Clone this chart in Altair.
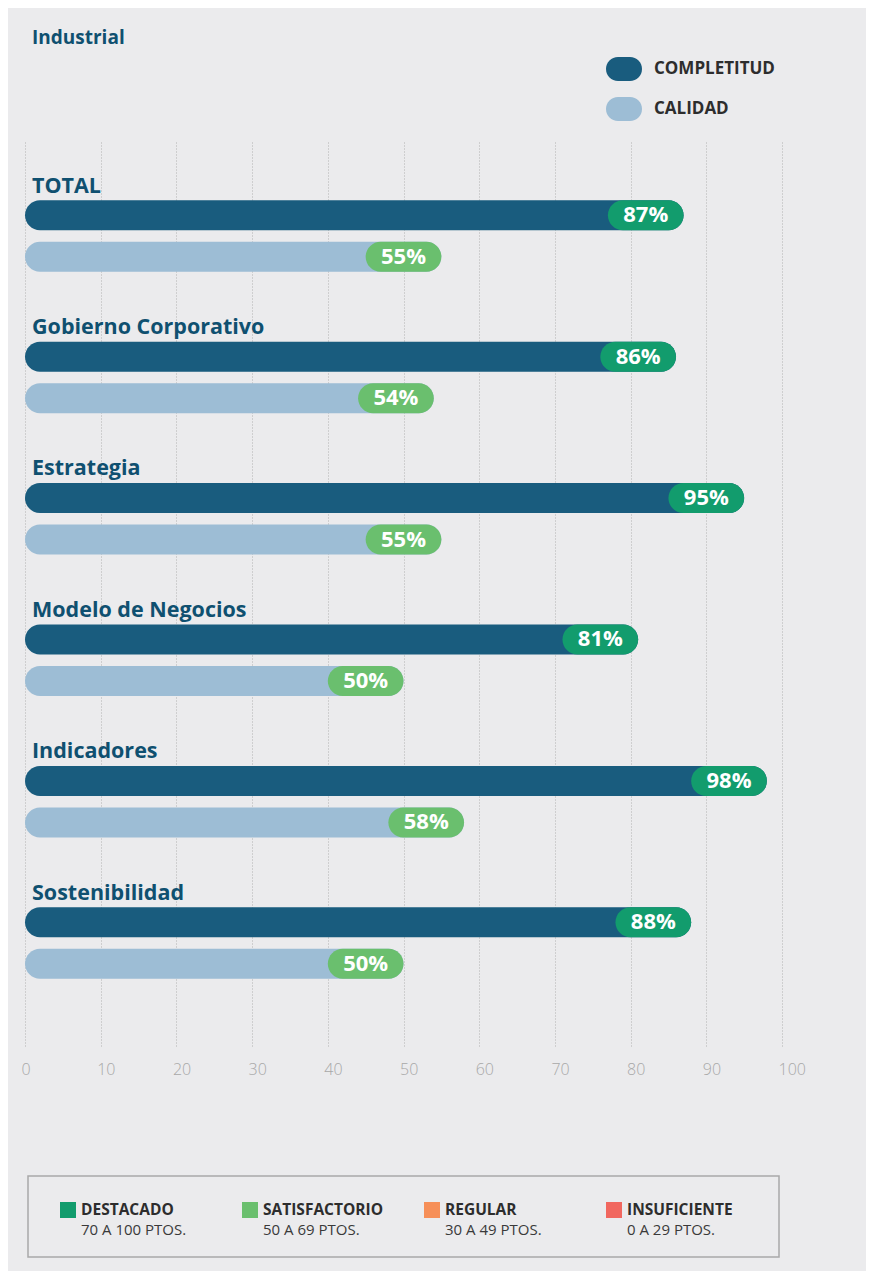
import altair as alt
import pandas as pd

# ---------------- data ----------------
title_text = "Industrial"
categories = ["TOTAL", "Gobierno Corporativo", "Estrategia", "Modelo de Negocios",
              "Indicadores", "Sostenibilidad"]
completitud = [87, 86, 95, 81, 98, 88]
calidad = [55, 54, 55, 50, 58, 50]
series = ["COMPLETITUD", "CALIDAD"]
x_ticks = [0, 10, 20, 30, 40, 50, 60, 70, 80, 90, 100]
rating_names = ["DESTACADO", "SATISFACTORIO", "REGULAR", "INSUFICIENTE"]
rating_ranges = ["70 A 100 PTOS.", "50 A 69 PTOS.", "30 A 49 PTOS.", "0 A 29 PTOS."]
rating_min = [70, 50, 30, 0]

# ---------------- styles ----------------
BG = "#ebebed"
SERIES_COLORS = ["#195c7e", "#9dbdd5"]
RATING_COLORS = ["#129c6d", "#6abf6e", "#f68f58", "#f1675f"]
TEXT_BLUE = "#0f5070"
FONT = "Open Sans"
W = 757
H_MAIN = 905
GROUP_PX = 143.0
SERIES_OFFSET = {"COMPLETITUD": 0.0, "CALIDAD": 42 / GROUP_PX}
LABEL_OFFSET = -29 / GROUP_PX
Y_DOMAIN = [-70 / GROUP_PX, (H_MAIN - 70) / GROUP_PX]


def rating_of(v):
    for name, lo in zip(rating_names, rating_min):
        if v >= lo:
            return name
    return rating_names[-1]


rows = []
for i, cat in enumerate(categories):
    for s, vals in zip(series, [completitud, calidad]):
        v = vals[i]
        rows.append({"category": cat, "series": s, "value": v,
                     "pos": i + SERIES_OFFSET[s], "label": f"{v}%",
                     "rating": rating_of(v)})
df = pd.DataFrame(rows)
cat_df = pd.DataFrame({"category": categories,
                       "pos": [i + LABEL_OFFSET for i in range(len(categories))]})

xscale = alt.Scale(domain=[0, 100], nice=False, zero=False)
yscale = alt.Scale(domain=Y_DOMAIN, reverse=True, nice=False, zero=False)
series_scale = alt.Scale(domain=series, range=SERIES_COLORS)
rating_scale = alt.Scale(domain=rating_names, range=RATING_COLORS)

xaxis = alt.Axis(values=x_ticks, grid=True, gridDash=[1, 2], gridColor="#b0b0b0",
                 gridWidth=1, domain=False, ticks=False, labelColor="#a8a8a8",
                 labelFontSize=16, labelFont=FONT, labelFontWeight=300,
                 labelPadding=15, labelAlign="left", labelOffset=-4, title=None)

base = alt.Chart(df).transform_calculate(
    zero="0", start="datum.value - 10", mid="datum.value - 5")

bars = base.mark_bar(size=30, cornerRadiusEnd=15, orient="horizontal").encode(
    x=alt.X("zero:Q", scale=xscale, axis=xaxis),
    x2="value:Q",
    y=alt.Y("pos:Q", scale=yscale, axis=None),
    color=alt.Color("series:N", scale=series_scale, legend=None),
)

pills = base.mark_bar(size=30, cornerRadius=15, orient="horizontal").encode(
    x=alt.X("start:Q", scale=xscale, axis=xaxis),
    x2="value:Q",
    y=alt.Y("pos:Q", scale=yscale, axis=None),
    color=alt.Color("rating:N", scale=rating_scale, legend=None),
)

pill_text = base.mark_text(
    color="white", font=FONT, fontSize=22, fontWeight="bold",
    align="center", baseline="middle").encode(
    x=alt.X("mid:Q", scale=xscale, axis=xaxis),
    y=alt.Y("pos:Q", scale=yscale, axis=None),
    text="label:N",
)

cat_text = alt.Chart(cat_df).mark_text(
    color=TEXT_BLUE, font=FONT, fontSize=21.5, fontWeight="bold",
    align="left", baseline="middle").encode(
    x=alt.value(7),
    y=alt.Y("pos:Q", scale=yscale, axis=None),
    text="category:N",
)

main = alt.layer(bars, pills, pill_text, cat_text).resolve_scale(
    color="independent").properties(width=W, height=H_MAIN)

# ---------------- header ----------------
PILL = "M-0.5,-1L0.5,-1A1,1,0,0,1,0.5,1L-0.5,1A1,1,0,0,1,-0.5,-1Z"
hdr_df = pd.DataFrame({"series": series, "idx": list(range(len(series)))})
hdr_title = alt.Chart(pd.DataFrame({"t": [title_text]})).mark_text(
    color=TEXT_BLUE, font=FONT, fontSize=19, fontWeight="bold",
    align="left", baseline="middle").encode(
    x=alt.value(7), y=alt.value(30), text="t:N")
hdr_y = alt.Y("idx:Q", scale=alt.Scale(domain=[0, 1], range=[61, 101], nice=False, zero=False), axis=None)
hdr_sym = alt.Chart(hdr_df).mark_point(shape=PILL, filled=True, size=576,
                                       opacity=1, strokeWidth=0).encode(
    x=alt.value(599), y=hdr_y,
    color=alt.Color("series:N", scale=series_scale, legend=None))
hdr_txt = alt.Chart(hdr_df).mark_text(
    color="#2d2d2d", font=FONT, fontSize=17, fontWeight="bold",
    align="left", baseline="middle").encode(
    x=alt.value(629), y=hdr_y, text="series:N")
header = alt.layer(hdr_title, hdr_sym, hdr_txt).properties(width=W, height=133)

# ---------------- footer ----------------
ft_df = pd.DataFrame({"rating": rating_names, "range": rating_ranges,
                      "idx": list(range(len(rating_names)))})
ft_x = alt.X("idx:Q", scale=alt.Scale(domain=[0, 3], range=[43, 589], nice=False, zero=False), axis=None)
ft_box = alt.Chart(alt.Data(values=[{"a": 1}])).mark_rect(
    filled=False, stroke="#a9a9a9", strokeWidth=1.5).encode(
    x=alt.value(3), x2=alt.value(754), y=alt.value(99), y2=alt.value(180))
ft_sq = alt.Chart(ft_df).mark_square(size=256, filled=True, opacity=1).encode(
    x=ft_x, y=alt.value(133),
    color=alt.Color("rating:N", scale=rating_scale, legend=None))
ft_name = alt.Chart(ft_df).mark_text(
    color="#2d2d2d", font=FONT, fontSize=15.5, fontWeight="bold",
    align="left", baseline="middle", dx=13).encode(
    x=ft_x, y=alt.value(133), text="rating:N")
ft_range = alt.Chart(ft_df).mark_text(
    color="#3a3a3a", font=FONT, fontSize=15,
    align="left", baseline="middle", dx=13).encode(
    x=ft_x, y=alt.value(153), text="range:N")
footer = alt.layer(ft_box, ft_sq, ft_name, ft_range).properties(width=W, height=194)

chart = alt.vconcat(header, main, footer, spacing=0).resolve_scale(
    x="independent", y="independent", color="independent").properties(
    padding={"left": 13, "top": 0, "right": 60, "bottom": 0}
).configure(background=BG).configure_view(stroke=None)

chart.save("out.html", embed_options={"renderer": "svg", "actions": False})
